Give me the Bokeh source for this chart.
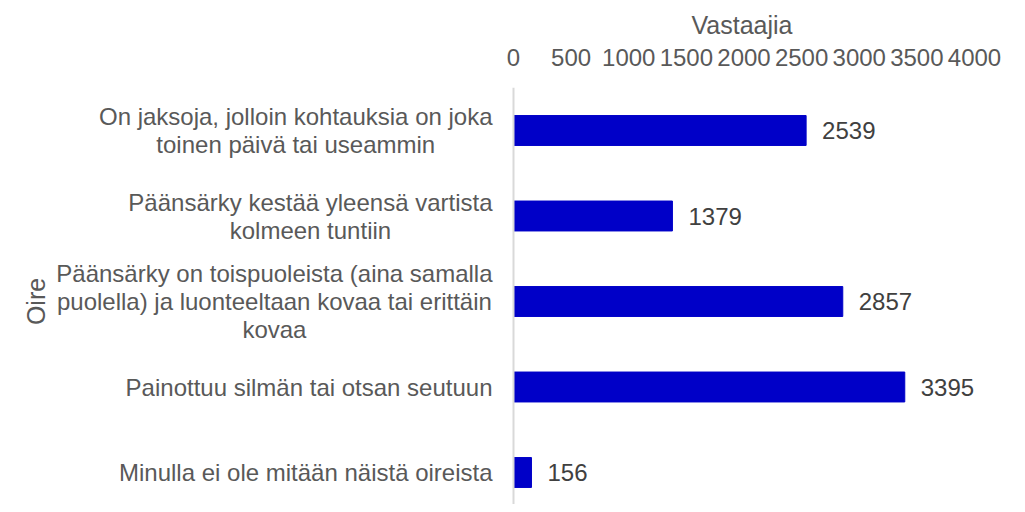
from bokeh.plotting import figure
from bokeh.models import Range1d, FixedTicker, Span
from bokeh.core.properties import value
from bokeh.embed import file_html
from bokeh.resources import INLINE

# ---- data ----
category_lines = [
    ["On jaksoja, jolloin kohtauksia on joka", "toinen päivä tai useammin"],
    ["Päänsärky kestää yleensä vartista", "kolmeen tuntiin"],
    ["Päänsärky on toispuoleista (aina samalla", "puolella) ja luonteeltaan kovaa tai erittäin", "kovaa"],
    ["Painottuu silmän tai otsan seutuun"],
    ["Minulla ei ole mitään näistä oireista"],
]
values = [2539, 1379, 2857, 3395, 156]
x_ticks = [0, 500, 1000, 1500, 2000, 2500, 3000, 3500, 4000]
x_title = "Vastaajia"
y_title = "Oire"

# ---- layout constants (figure pixels) ----
FONT = "Liberation Sans"
FS = 24
GRAY = "#595959"
WIDTH = 1017
HEIGHT = 504
ZERO_PX = 513
FRAME_RIGHT = 974
FRAME_TOP = 87
FRAME_BOTTOM = 504
ROW0 = 130.0
ROW_STEP = 85.5
LABEL_RIGHT = 492
LINE_H = 28
X_MAX = 4000
TITLE_LEFT = 691

scale = (FRAME_RIGHT - ZERO_PX) / X_MAX

def px_to_x(px):
    return (px - ZERO_PX) / scale

def py_to_y(py):
    return (py - ROW0) / ROW_STEP

# Arial / Liberation Sans advance widths (per 1000 em)
W = {" ": 278, ",": 278, "(": 333, ")": 333, "a": 556, "b": 556, "c": 500, "d": 556,
     "e": 556, "f": 278, "g": 556, "h": 556, "i": 222, "j": 222, "k": 500, "l": 222,
     "m": 833, "n": 556, "o": 556, "p": 556, "q": 556, "r": 333, "s": 500, "t": 278,
     "u": 556, "v": 500, "w": 722, "x": 500, "y": 500, "z": 500, "ä": 556, "ö": 556,
     "O": 778, "P": 667, "M": 833, "K": 667}

def text_w(s):
    return sum(W.get(c, 556) for c in s) * FS / 1000.0

idx = list(range(len(values)))

p = figure(width=WIDTH, height=HEIGHT,
           x_range=Range1d(px_to_x(0), X_MAX),
           y_range=Range1d(py_to_y(FRAME_BOTTOM), py_to_y(FRAME_TOP)),
           x_axis_location="above",
           output_backend="svg", toolbar_location=None,
           min_border_left=0, min_border_right=WIDTH - FRAME_RIGHT,
           min_border_top=FRAME_TOP, min_border_bottom=0)
p.outline_line_color = None
p.grid.visible = False
p.yaxis.visible = False
p.background_fill_color = "white"
p.border_fill_color = "white"

# axis title placed over the 0..4000 part of the axis
p.title.text = x_title
p.title.align = "left"
p.title.offset = TITLE_LEFT
p.title.text_font = FONT
p.title.text_font_size = "25px"
p.title.text_font_style = "normal"
p.title.text_color = GRAY
p.title.standoff = 14

p.add_layout(Span(location=0, dimension="height", line_color="#D9D9D9", line_width=2))

p.hbar(y=idx, left=0, right=values, height=0.35, fill_color="#0000C8", line_color="#0000C8")

xa = p.xaxis[0]
xa.ticker = FixedTicker(ticks=x_ticks)
xa.axis_line_color = None
xa.major_tick_line_color = None
xa.minor_tick_line_color = None
xa.major_label_text_font = FONT
xa.major_label_text_font_size = f"{FS}px"
xa.major_label_text_color = GRAY
xa.major_label_standoff = 16

# value labels
p.text(x=values, y=idx, text=[str(v) for v in values], x_offset=16,
       text_baseline="middle", text_align="left",
       text_font=value(FONT), text_font_size=f"{FS}px", text_color="#404040")

# category labels (lines centred in a right-aligned block)
lx, ly, lt = [], [], []
line_step = LINE_H / ROW_STEP
for i, lines in enumerate(category_lines):
    maxw = max(text_w(s) for s in lines)
    cx = px_to_x(LABEL_RIGHT - maxw / 2)
    n = len(lines)
    for k, s in enumerate(lines):
        lx.append(cx)
        ly.append(i + (k - (n - 1) / 2) * line_step)
        lt.append(s)
p.text(x=lx, y=ly, text=lt, text_align="center", text_baseline="middle",
       text_font=value(FONT), text_font_size=f"{FS}px", text_color=GRAY)

# y axis title
p.text(x=[px_to_x(35)], y=[(len(values) - 1) / 2], text=[y_title], angle=1.5707963,
       text_align="center", text_baseline="middle",
       text_font=value(FONT), text_font_size="25px", text_color=GRAY)

open("out.html", "w").write(file_html(p, INLINE))
